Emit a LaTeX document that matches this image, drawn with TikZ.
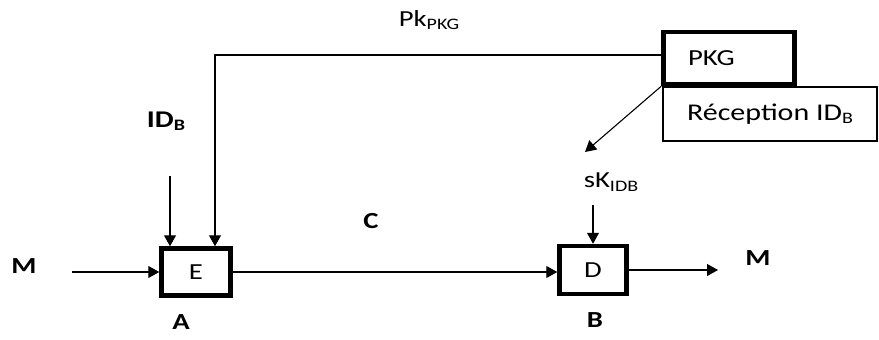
\documentclass[tikz,border=0pt]{standalone}
\usepackage{fontspec}
\setmainfont[FakeStretch=1.25]{Carlito}
\usetikzlibrary{arrows.meta}

% indice abaisse, de taille fixe
\newcommand\idx[1]{\raisebox{-0.3ex}{\fontsize{16}{18}\selectfont #1}}

\tikzset{
  blk/.style={draw, line width=4.5pt, inner sep=0pt},
  sig/.style={-{Triangle[length=11pt,width=12pt]}, line width=1.1pt},
  txt/.style={font=\fontsize{23}{26}\selectfont},
  lbl/.style={font=\fontsize{23}{26}\selectfont\bfseries}
}

\begin{document}
\begin{tikzpicture}[x=1pt,y=-1pt]
\useasboundingbox (0,0) rectangle (879,340);

% blocs chiffrement / dechiffrement
\node[blk, txt, minimum width=69, minimum height=47] (E) at (196,272) {E};
\node[blk, txt, minimum width=67, minimum height=48] (D) at (593,270) {D};

% generateur de cles
\node[blk, txt, minimum width=131, minimum height=52, text width=82, align=left] (PKG) at (729,58) {PKG};
\node[draw, line width=1.2pt, minimum width=214, minimum height=54, font=\fontsize{24}{27}\selectfont] (rec) at (770,114) {Réception ID\idx{B}};

% etiquettes
\node[lbl] (min) at (24,266) {M};
\node[lbl] (mout) at (758,258) {M};
\node[lbl] (c) at (371,221) {C};
\node[lbl] (a) at (181,322) {A};
\node[lbl] (b) at (595,320) {B};
\node[lbl, font=\fontsize{24}{27}\selectfont\bfseries] (idb) at (166,121) {ID\idx{B}};
\node[txt] (pk) at (429,20) {Pk\idx{PKG}};
\node[txt] (sk) at (611,182) {sK\idx{IDB}};

\coordinate (mstart) at (72,272);
\coordinate (mend) at (718,270);
\coordinate (idtop) at (170,176);
\coordinate (sktop) at (593,205);
\coordinate (sktip) at (585,152);
\coordinate (pkin) at ([xshift=19pt]E.north);

\draw[sig] (mstart) -- (E.west);
\draw[sig] (E.east) -- (E.east -| D.west);
\draw[sig] (D.east) -- (mend);
\draw[sig] (idtop) -- (idtop |- E.north);
\draw[sig] ([yshift=3pt]PKG.west) -| (pkin);
\draw[sig] (PKG.south west) -- (sktip);
\draw[sig] (sktop) -- (D.north);
\end{tikzpicture}
\end{document}
